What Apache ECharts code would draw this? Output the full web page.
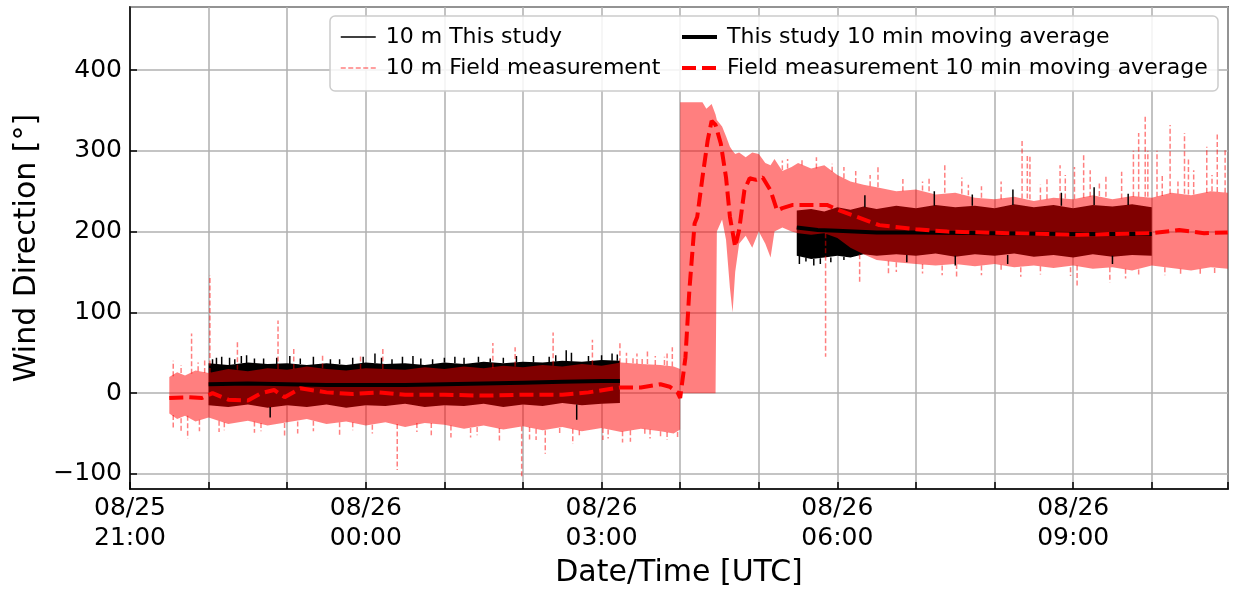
<!DOCTYPE html>
<html>
<head>
<meta charset="utf-8">
<script src="https://cdn.jsdelivr.net/npm/echarts@6/dist/echarts.min.js"></script>
<style>
  html, body { margin: 0; padding: 0; background: #ffffff; }
  #chart { width: 1233px; height: 594px; }
</style>
</head>
<body>
<div id="chart"></div>
<script>
// ---- 10 m wind direction, 08/25 21:00 – 08/26 11:00 UTC ----

// Field measurement, spread of the 10 m record: [time, low, high] in degrees
const fieldBand = [
  ['21:30', -25, 20], ['21:36', -32, 26], ['21:42', -28, 22], ['21:50', -35, 28],
  ['22:00', -30, 25], ['22:15', -38, 30], ['22:30', -34, 27], ['22:45', -40, 31],
  ['23:00', -36, 29], ['23:15', -32, 33], ['23:30', -38, 30], ['23:45', -35, 28],
  ['00:00', -40, 31], ['00:15', -36, 30], ['00:30', -42, 29], ['00:45', -37, 32],
  ['01:00', -39, 30], ['01:15', -44, 33], ['01:30', -40, 31], ['01:45', -45, 34],
  ['02:00', -41, 32], ['02:15', -46, 35], ['02:30', -42, 33], ['02:45', -47, 36],
  ['03:00', -43, 34], ['03:15', -48, 38], ['03:30', -44, 36], ['03:45', -47, 35],
  ['03:55', -50, 33], ['04:00', -45, 30],
  ['04:00', 0, 360], ['04:17', 0, 360], ['04:20', 0, 352], ['04:24', 0, 358],
  ['04:27', 0, 345], ['04:28', 200, 338], ['04:32', 215, 330], ['04:35', 190, 318],
  ['04:38', 130, 305], ['04:40', 100, 300], ['04:42', 150, 296], ['04:45', 185, 298],
  ['04:50', 195, 292], ['04:55', 180, 298], ['05:00', 200, 296], ['05:05', 185, 285],
  ['05:09', 168, 282], ['05:12', 200, 290], ['05:18', 205, 275], ['05:25', 200, 280],
  ['05:30', 198, 285], ['05:40', 196, 278], ['05:50', 198, 282], ['06:00', 192, 270],
  ['06:10', 180, 262], ['06:20', 172, 258], ['06:30', 165, 255], ['06:45', 162, 250],
  ['07:00', 160, 252], ['07:15', 158, 246], ['07:30', 160, 248], ['07:45', 157, 242],
  ['08:00', 160, 240], ['08:15', 156, 243], ['08:30', 158, 238], ['08:45', 155, 242],
  ['09:00', 158, 240], ['09:15', 154, 245], ['09:30', 156, 240], ['09:45', 152, 244],
  ['10:00', 158, 242], ['10:15', 155, 248], ['10:30', 152, 245], ['10:45', 156, 250],
  ['10:58', 154, 248]
];

// Field measurement, isolated gusts: [time, from, to]
const fieldSpikes = [
  ['21:44', -28, -56], ['21:47', 24, 74], ['22:01', 25, 146], ['22:22', 29, 63],
  ['22:53', 30, 90], ['22:58', -37, -54], ['23:05', 30, 57], ['23:08', -35, -50],
  ['23:27', 31, 47], ['23:56', 30, 47], ['00:13', 30, 57], ['00:24', -38, -95],
  ['00:39', -37, -48], ['01:37', 31, 62], ['01:54', 33, 57], ['01:59', -41, -104],
  ['02:05', -42, -58], ['02:17', -46, -75], ['02:23', 34, 75], ['02:28', -43, -52],
  ['02:53', 35, 66], ['03:01', -43, -58], ['03:14', 37, 63], ['03:16', -47, -61],
  ['03:27', 36, 49], ['03:37', -45, -56], ['03:45', -47, -56], ['03:54', 33, 57],
  ['03:58', -48, -56],
  ['21:33', -27, -45], ['21:39', -31, -48], ['21:53', -33, -47], ['22:08', -34, -48],
  ['22:12', -36, -46], ['22:35', -35, -49], ['22:40', -37, -47], ['23:20', -34, -47],
  ['23:40', -36, -52], ['23:50', -36, -46], ['00:05', -39, -50], ['00:50', -37, -52],
  ['01:05', -40, -55], ['01:20', -43, -55], ['01:25', -42, -52], ['01:42', -43, -60],
  ['02:10', -44, -58], ['02:38', -44, -63], ['02:43', -46, -55], ['03:05', -45, -56],
  ['03:22', -46, -60], ['03:33', -44, -52], ['03:50', -48, -58],
  ['21:33', 21, 40], ['21:39', 25, 35], ['21:52', 27, 38], ['21:57', 25, 42],
  ['03:19', 37, 50], ['03:24', 37, 46], ['03:31', 36, 45], ['03:35', 36, 52],
  ['03:41', 35, 46], ['03:48', 35, 45], ['03:50', 34, 49],
  ['05:18', 276, 288], ['05:33', 282, 290], ['05:51', 198, 45], ['06:31', 255, 282],
  ['07:22', 248, 282], ['07:35', 247, 267], ['08:21', 241, 315], ['08:25', 241, 295],
  ['08:27', 240, 295], ['08:50', 241, 282], ['08:54', 241, 270], ['09:01', 240, 280],
  ['09:08', 242, 297], ['09:13', 243, 276], ['09:37', 241, 274], ['09:46', 243, 300],
  ['09:50', 243, 322], ['09:55', 243, 344], ['09:57', 243, 300], ['10:04', 243, 300],
  ['10:14', 247, 332], ['10:25', 247, 322], ['10:32', 246, 276], ['10:42', 248, 305],
  ['10:50', 249, 323], ['10:56', 248, 303],
  ['05:22', 278, 290], ['05:44', 278, 292], ['05:56', 274, 284], ['06:05', 266, 280],
  ['06:14', 260, 275], ['06:25', 256, 270], ['06:50', 250, 265], ['07:05', 251, 262],
  ['07:10', 250, 268], ['07:40', 245, 258], ['07:50', 242, 256], ['08:05', 240, 262],
  ['08:35', 239, 258], ['08:40', 240, 268], ['09:20', 244, 262], ['09:25', 243, 270],
  ['10:08', 244, 270], ['10:20', 247, 262], ['10:28', 246, 290], ['10:46', 250, 270],
  ['06:17', 172, 137], ['06:39', 164, 148], ['07:31', 160, 142], ['09:03', 158, 131],
  ['09:28', 156, 137], ['10:37', 154, 145],
  ['06:45', 162, 150], ['07:05', 160, 148], ['07:20', 158, 146], ['07:50', 158, 146],
  ['08:05', 159, 150], ['08:20', 156, 144], ['08:35', 157, 147], ['08:58', 156, 145],
  ['09:40', 154, 142], ['09:50', 153, 146], ['10:10', 156, 146], ['10:22', 154, 147],
  ['10:48', 155, 146]
];

// This study, spread of the 10 m record: [time, low, high]
const studyBandNight = [
  ['22:00', -15, 37], ['22:15', -17, 35], ['22:30', -14, 38], ['22:45', -18, 36],
  ['23:00', -15, 37], ['23:15', -17, 35], ['23:30', -14, 37], ['23:45', -18, 35],
  ['00:00', -15, 38], ['00:15', -16, 36], ['00:30', -13, 37], ['00:45', -17, 35],
  ['01:00', -15, 38], ['01:15', -16, 36], ['01:30', -13, 39], ['01:45', -17, 37],
  ['02:00', -14, 39], ['02:15', -16, 38], ['02:30', -12, 40], ['02:45', -15, 39],
  ['03:00', -13, 41], ['03:14', -12, 40]
];
const studyBandMorning = [
  ['05:29', 170, 226], ['05:40', 166, 228], ['05:50', 168, 225], ['06:00', 170, 230],
  ['06:10', 168, 227], ['06:20', 172, 231], ['06:30', 170, 228], ['06:45', 172, 232],
  ['07:00', 170, 229], ['07:15', 173, 233], ['07:30', 169, 230], ['07:45', 172, 232],
  ['08:00', 170, 229], ['08:15', 173, 234], ['08:30', 169, 230], ['08:45', 171, 233],
  ['09:00', 168, 229], ['09:15', 172, 233], ['09:30', 169, 231], ['09:45', 171, 234],
  ['10:00', 170, 230]
];

// This study, isolated excursions: [time, from, to]
const studySpikes = [
  ['22:06', 36, 44], ['22:16', 35, 44], ['22:29', 37, 47], ['22:42', 36, 43],
  ['23:02', 36, 46], ['23:33', 36, 42], ['23:58', 37, 45], ['00:07', 37, 49],
  ['00:36', 36, 46], ['00:51', 35, 42], ['01:08', 37, 45], ['01:26', 38, 45],
  ['01:35', 38, 43], ['02:08', 38, 46], ['02:33', 39, 53], ['02:37', 39, 50],
  ['03:00', 40, 47], ['03:08', 40, 49], ['22:47', -17, -30], ['02:41', -14, -33],
  ['22:03', 36, 42], ['22:10', 35, 45], ['22:20', 36, 42], ['22:25', 37, 46],
  ['22:35', 37, 43], ['22:52', 36, 44], ['23:10', 36, 43], ['23:20', 35, 45],
  ['23:40', 36, 42], ['23:50', 35, 44], ['00:12', 36, 44], ['00:20', 36, 42],
  ['00:28', 36, 45], ['00:42', 35, 43], ['01:00', 38, 44], ['01:15', 36, 44],
  ['01:45', 37, 44], ['01:55', 38, 46], ['02:20', 38, 45], ['02:25', 39, 47],
  ['02:50', 39, 46], ['03:12', 40, 48],
  ['05:31', 170, 160], ['05:36', 168, 163], ['05:42', 166, 158], ['05:47', 167, 160],
  ['05:55', 168, 162], ['06:05', 169, 165], ['06:53', 171, 162], ['07:30', 170, 158],
  ['08:10', 171, 160], ['09:30', 170, 160],
  ['06:21', 230, 245], ['07:14', 232, 250], ['07:43', 232, 246], ['08:14', 233, 252],
  ['08:51', 232, 248], ['09:16', 233, 255], ['09:42', 233, 247]
];

// 10 min moving averages: [time, degrees]
const fieldMovingAverage = [
  ['21:30', -6], ['21:45', -5], ['21:55', -6], ['22:03', 0], ['22:15', -8], ['22:30', -9],
  ['22:40', 0], ['22:50', 4], ['22:58', -5], ['23:10', 6], ['23:30', 1], ['23:50', -1],
  ['00:10', 1], ['00:30', -2], ['01:00', -2], ['01:30', -3], ['02:00', -2], ['02:30', -2],
  ['02:50', 1], ['03:14', 7], ['03:30', 7], ['03:45', 11], ['03:52', 8], ['03:58', 1],
  ['04:00', -6], ['04:04', 44], ['04:07', 127], ['04:11', 210], ['04:13', 218], ['04:17', 267],
  ['04:21', 313], ['04:24', 337], ['04:27', 332], ['04:31', 309], ['04:35', 267], ['04:38', 218],
  ['04:42', 181], ['04:45', 202], ['04:49', 251], ['04:53', 266], ['04:58', 264], ['05:03', 267],
  ['05:09', 251], ['05:14', 226], ['05:18', 229], ['05:26', 233], ['05:39', 233], ['05:52', 233],
  ['06:02', 226], ['06:17', 217], ['06:32', 208], ['07:00', 203], ['07:24', 200], ['08:14', 198],
  ['08:40', 197], ['09:05', 196], ['09:30', 197], ['10:00', 198], ['10:21', 202], ['10:40', 198],
  ['10:58', 199]
];
const studyMovingAverageNight = [
  ['22:00', 11], ['22:30', 12], ['23:00', 11], ['23:30', 10], ['00:00', 10], ['00:30', 10],
  ['01:00', 11], ['01:30', 12], ['02:00', 13], ['02:30', 14], ['03:00', 15], ['03:14', 15]
];
const studyMovingAverageMorning = [
  ['05:29', 205], ['05:45', 202], ['06:00', 201], ['06:30', 199], ['07:00', 199],
  ['08:00', 198], ['09:00', 197], ['10:00', 197]
];

// Axis: hours after 08/25 21:00 UTC
const axisStartLabel = ['08/25', 21];
const axisEndHours = 13.97;
const yRange = [-118.6, 478];

const FONT = 'DejaVu Sans';
const FIELD_COLOR = 'rgba(255,0,0,0.5)';

function toHours(hhmm) {
  const [h, m] = hhmm.split(':').map(Number);
  return (h >= 21 ? h - 21 : h + 3) + m / 60;
}

function spikesToLine(spikes) {
  const out = [];
  spikes.forEach(([t, a, b]) => {
    const x = toHours(t);
    out.push([x, a], [x, b], [x, '-']);
  });
  return out;
}

function seriesPoints(rows) {
  return rows.map(([t, v]) => [toHours(t), v]);
}

function bandSeries(name, rows, color) {
  const data = rows.map(([t, lo, hi]) => [toHours(t), lo, hi]);
  return {
    name: name,
    type: 'custom',
    silent: true,
    clip: true,
    data: data,
    encode: { x: 0, y: [1, 2] },
    renderItem: function (params, api) {
      if (params.dataIndex !== 0) return null;
      const upper = data.map(r => api.coord([r[0], r[2]]));
      const lower = data.map(r => api.coord([r[0], r[1]])).reverse();
      return {
        type: 'polygon',
        shape: { points: upper.concat(lower) },
        style: { fill: color, stroke: null }
      };
    }
  };
}

function clockLabel(v) {
  const total = axisStartLabel[1] + Math.round(v);
  const day = total >= 24 ? '08/26' : axisStartLabel[0];
  const hh = String(total % 24).padStart(2, '0');
  return day + '\n' + hh + ':00';
}

const gridLine = { color: '#b0b0b0', width: 1.5 };
const blackLine = { color: '#000', width: 1.5 };

const legendCommon = {
  orient: 'vertical', top: 26, z: 5, padding: 0,
  itemWidth: 35, itemHeight: 14, itemGap: 9, selectedMode: false,
  itemStyle: { opacity: 0 },
  textStyle: { fontFamily: FONT, fontSize: 22, color: '#000', padding: [0, 0, 0, 5] }
};

const chart = echarts.init(document.getElementById('chart'), null, { renderer: 'canvas' });

chart.setOption({
  animation: false,
  backgroundColor: '#ffffff',
  textStyle: { fontFamily: FONT, color: '#000' },
  grid: {
    left: 130, right: 5, top: 7, bottom: 105,
    show: true, borderColor: '#000', borderWidth: 1.5, backgroundColor: 'transparent'
  },
  graphic: [{
    type: 'rect', z: 3, silent: true,
    shape: { x: 330, y: 16, width: 888, height: 75, r: 5 },
    style: { fill: 'rgba(255,255,255,0.85)', stroke: '#cccccc', lineWidth: 1.5 }
  }],
  legend: [
    Object.assign({}, legendCommon, {
      left: 340,
      data: [
        { name: '10 m This study', lineStyle: { width: 1.5 } },
        { name: '10 m Field measurement', lineStyle: { width: 1.5 } }
      ]
    }),
    Object.assign({}, legendCommon, {
      left: 680,
      data: [
        { name: 'This study 10 min moving average', lineStyle: { width: 4 } },
        { name: 'Field measurement 10 min moving average', lineStyle: { width: 4 } }
      ]
    })
  ],
  xAxis: {
    type: 'value', min: 0, max: axisEndHours, interval: 3,
    name: 'Date/Time [UTC]', nameLocation: 'middle', nameGap: 64,
    nameTextStyle: { fontFamily: FONT, fontSize: 30, color: '#000' },
    axisLine: { show: true, onZero: false, lineStyle: blackLine },
    axisTick: { show: true, inside: true, length: 7, lineStyle: blackLine },
    minorTick: { show: true, splitNumber: 3, length: 7, lineStyle: blackLine },
    splitLine: { show: true, lineStyle: gridLine },
    minorSplitLine: { show: true, lineStyle: gridLine },
    axisLabel: {
      fontFamily: FONT, fontSize: 25, color: '#000', lineHeight: 30, margin: 4,
      showMaxLabel: false, formatter: clockLabel
    }
  },
  yAxis: {
    type: 'value', min: yRange[0], max: yRange[1], splitNumber: 6,
    name: 'Wind Direction [°]', nameLocation: 'middle', nameGap: 87,
    nameTextStyle: { fontFamily: FONT, fontSize: 30, color: '#000' },
    axisLine: { show: true, onZero: false, lineStyle: blackLine },
    axisTick: { show: true, inside: true, length: 7, lineStyle: blackLine },
    splitLine: { show: true, lineStyle: gridLine },
    axisLabel: {
      fontFamily: FONT, fontSize: 25, color: '#000', margin: 8,
      showMinLabel: false, showMaxLabel: false,
      formatter: v => (v < 0 ? '\u2212' + Math.abs(v) : String(v))
    }
  },
  series: [
    bandSeries('study spread night', studyBandNight, '#000000'),
    bandSeries('study spread morning', studyBandMorning, '#000000'),
    {
      name: '10 m This study', type: 'line', symbol: 'none', silent: true,
      connectNulls: false, data: spikesToLine(studySpikes),
      lineStyle: { color: '#000', width: 1.5 }, itemStyle: { color: '#000' }
    },
    bandSeries('field spread', fieldBand, FIELD_COLOR),
    {
      name: '10 m Field measurement', type: 'line', symbol: 'none', silent: true,
      connectNulls: false, data: spikesToLine(fieldSpikes),
      lineStyle: { color: FIELD_COLOR, width: 1.5, type: [5, 2.5] }, itemStyle: { color: FIELD_COLOR }
    },
    {
      name: 'This study 10 min moving average', type: 'line', symbol: 'none', silent: true,
      connectNulls: false,
      data: seriesPoints(studyMovingAverageNight).concat([[toHours('04:20'), '-']], seriesPoints(studyMovingAverageMorning)),
      lineStyle: { color: '#000', width: 4 }, itemStyle: { color: '#000' }
    },
    {
      name: 'Field measurement 10 min moving average', type: 'line', symbol: 'none', silent: true,
      data: seriesPoints(fieldMovingAverage),
      lineStyle: { color: '#ff0000', width: 4, type: [14, 6] }, itemStyle: { color: '#ff0000' }
    }
  ]
});
</script>
</body>
</html>
